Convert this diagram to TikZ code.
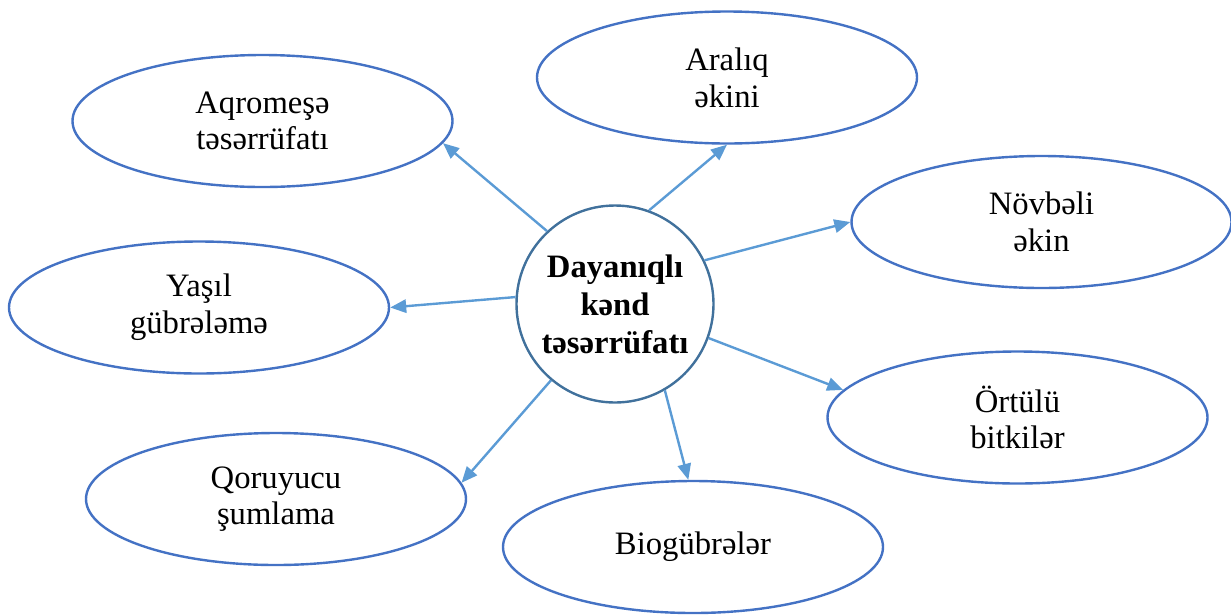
\documentclass[tikz,border=0pt]{standalone}
\usepackage{fontspec}
\setmainfont{Liberation Serif}
\usetikzlibrary{shapes.geometric,arrows.meta}
\definecolor{ellblue}{HTML}{4472C4}
\definecolor{circblue}{HTML}{41719C}
\definecolor{arrblue}{HTML}{5B9BD5}
\begin{document}
\begin{tikzpicture}[x=0.75pt,y=-0.75pt,
  leaf/.style={ellipse,draw=ellblue,line width=1.8pt,minimum width=285pt,minimum height=99pt,
    inner sep=0pt,align=center,font=\fontsize{24.5}{27.5}\selectfont},
  hub/.style={circle,draw=circblue,line width=1.8pt,minimum size=147.75pt,inner sep=0pt,
    align=center,font=\fontsize{24.5}{28.5}\selectfont\bfseries},
  link/.style={draw=arrblue,line width=1.8pt,-{Triangle[length=12pt,width=10pt]}}]
\useasboundingbox (0,0) rectangle (1231,615);
\node[hub] (c) at (615,304) {Dayanıqlı\\kənd\\təsərrüfatı};
\node[leaf] (e1) at (262.5,121) {Aqromeşə\\təsərrüfatı};
\node[leaf] (e2) at (727,77.5) {Aralıq\\əkini};
\node[leaf] (e3) at (1041.5,222) {Növbəli\\əkin};
\node[leaf] (e4) at (199,307.5) {Yaşıl\\gübrələmə};
\node[leaf] (e5) at (1017.5,417.5) {Örtülü\\bitkilər};
\node[leaf] (e6) at (276,499) {Qoruyucu\\şumlama};
\node[leaf] (e7) at (693,547) {Biogübrələr};
\draw[link] (c.133) -- (e1.-7.9);
\draw[link] (c.70.4) -- (e2.-90);
\draw[link] (c.26.3) -- (e3.180.9);
\draw[link] (c.176.5) -- (e4.0);
\draw[link] (c.-20.3) -- (e5.171.3);
\draw[link] (c.-130) -- (e6.5.2);
\draw[link] (c.-60) -- (e7.94.3);
\end{tikzpicture}
\end{document}
